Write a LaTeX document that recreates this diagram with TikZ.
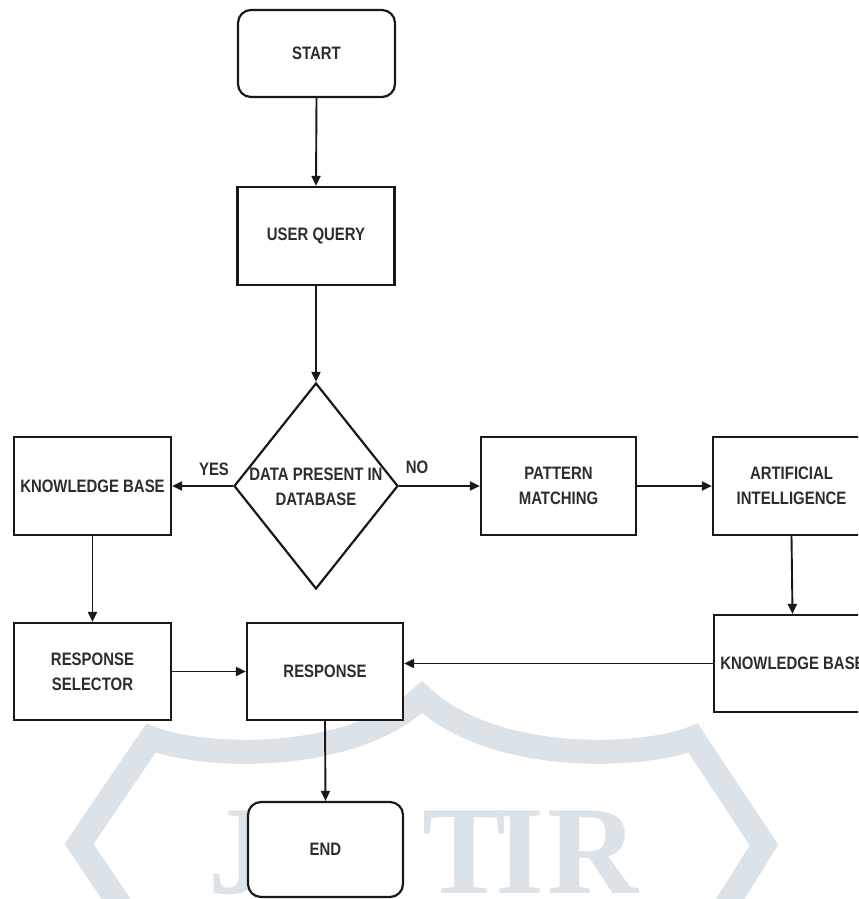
\documentclass[tikz,border=0pt]{standalone}
\usepackage{fontspec}
\setmainfont{Liberation Sans}[FakeStretch=0.83]
\newfontfamily\wmfont{Liberation Serif}
\usetikzlibrary{arrows.meta,shapes.geometric}
\definecolor{wm}{RGB}{220,227,232}
\definecolor{linecol}{RGB}{25,25,25}
\definecolor{txtcol}{RGB}{45,45,45}
\newcommand\flowfont{\bfseries\fontsize{9pt}{12.5pt}\selectfont}
\newcommand\wmletters{\wmfont\bfseries\fontsize{63pt}{63pt}\selectfont}
\tikzset{
  box/.style={draw=linecol, line width=1.1pt, fill=white, minimum width=78.5pt,
    minimum height=49pt, inner sep=0pt, align=center, font=\flowfont, text=txtcol},
  rbox/.style={box, rounded corners=6.5pt},
  decision/.style={diamond, draw=linecol, line width=1.1pt, fill=white,
    minimum width=82pt, minimum height=103pt, inner sep=0pt},
  lbl/.style={inner sep=0pt, align=center, font=\flowfont, text=txtcol},
  arr/.style={-{Triangle[length=5pt,width=4.5pt]}, line width=0.95pt, draw=linecol},
  wmband/.style={draw=wm, line width=12pt, line join=miter, miter limit=20},
  wmtxt/.style={inner sep=0pt, anchor=base, text=wm, font=\wmletters}
}
\begin{document}
\begin{tikzpicture}[x=0.5pt,y=-0.5pt]
\useasboundingbox (0,0) rectangle (858,899);
\clip (0,0) rectangle (858,899);
\fill[white] (0,0) rectangle (858,899);

% watermark
\draw[wmband] (125,912) -- (79,844) -- (151,738)
  .. controls (200,758) and (350,765) .. (422,697)
  .. controls (494,765) and (644,758) .. (693,738)
  -- (764,845) -- (722,912);
\node[wmtxt] (wJ) at (240,893) {J};
\node[wmtxt] (wT) at (465,893) {T};
\node[wmtxt] (wI) at (520,893) {I};
\node[wmtxt] (wR) at (593,893) {R};

% nodes
\node[rbox, minimum height=43.5pt] (start) at (316.5,53.5) {START};
\node[box] (uq) at (316,236) {USER QUERY};
\node[decision] (dec) at (316,486) {};
\node[lbl] (dectext) at (316,487) {DATA PRESENT IN\\DATABASE};
\node[box] (kb1) at (92.5,486) {KNOWLEDGE BASE};
\node[box, minimum width=77.5pt] (pm) at (558.5,486) {PATTERN\\MATCHING};
\node[box] (ai) at (791.5,486) {ARTIFICIAL\\INTELLIGENCE};
\node[box, minimum height=48.5pt] (kb2) at (792.5,663.5) {KNOWLEDGE BASE};
\node[box, minimum height=48.5pt] (rs) at (92.5,671.5) {RESPONSE\\SELECTOR};
\node[box, minimum width=78pt, minimum height=48.5pt] (resp) at (325,671.5) {RESPONSE};
\node[rbox, minimum width=77.5pt, minimum height=47.5pt] (end) at (325.5,849.5) {END};

% labels
\node[lbl] (yes) at (214,469) {YES};
\node[lbl] (no) at (417,467) {NO};

% connectors
\draw[arr] (start.south) -- (uq.north);
\draw[arr] (uq.south) -- (dec.north);
\draw[arr] (dec.west) -- (kb1.east);
\draw[arr] (dec.east) -- (pm.west);
\draw[arr] (pm.east) -- (ai.west);
\draw[arr] (ai.south) -- (kb2.north);
\draw[arr] (kb2.west) -- (kb2.west -| resp.east);
\draw[arr] (kb1.south) -- (rs.north);
\draw[arr] (rs.east) -- (resp.west);
\draw[arr] (resp.south) -- (end.north);
\end{tikzpicture}
\end{document}
